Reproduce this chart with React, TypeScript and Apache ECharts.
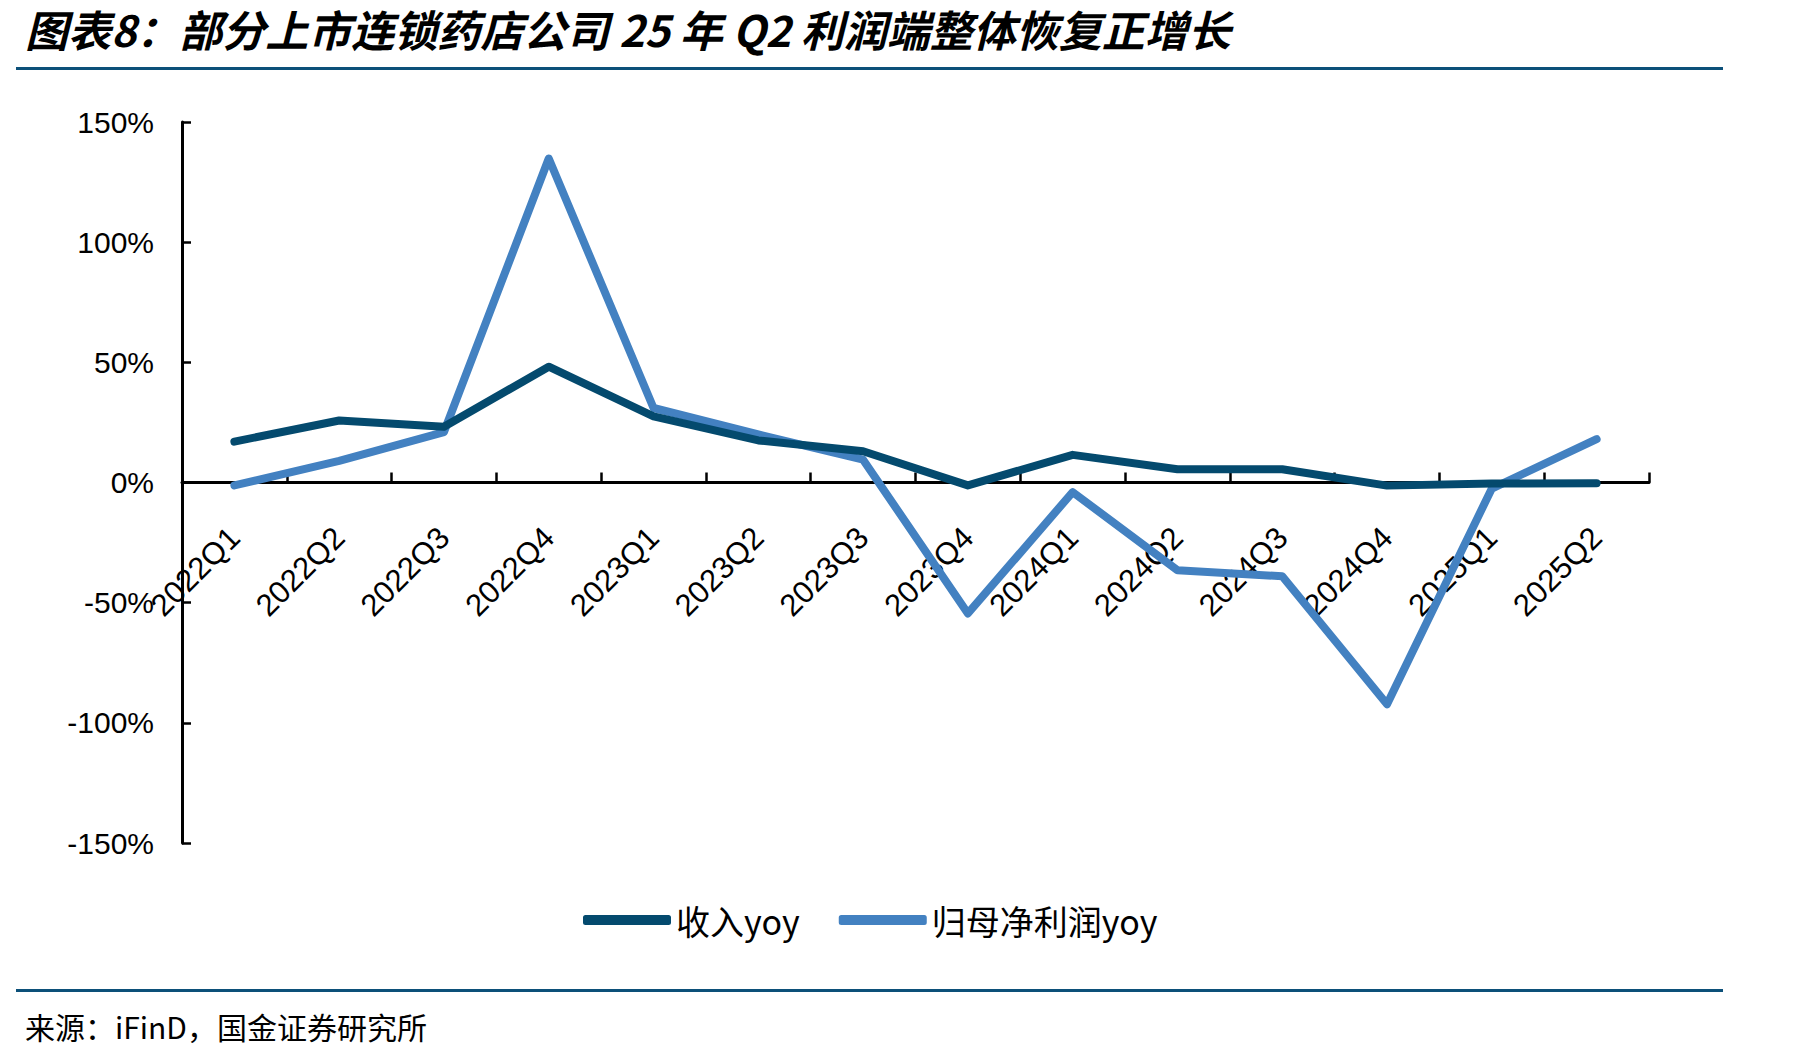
import React, { useEffect, useRef } from "react";
import * as echarts from "echarts";

const categories = ["2022Q1", "2022Q2", "2022Q3", "2022Q4", "2023Q1", "2023Q2", "2023Q3", "2023Q4", "2024Q1", "2024Q2", "2024Q3", "2024Q4", "2025Q1", "2025Q2"];
const revenueYoy = [17.0, 25.8, 23.2, 48.2, 27.5, 17.5, 13.0, -1.2, 11.5, 5.5, 5.5, -1.3, -0.4, -0.3];
const profitYoy = [-1.2, 9.0, 21.0, 134.8, 31.0, 20.0, 9.5, -54.5, -4.0, -36.5, -39.0, -92.3, -2.5, 18.0];
const seriesNames = ["收入yoy", "归母净利润yoy"];
const yTicks = { min: -150, max: 150, interval: 50 };
const titleText = "图表8：部分上市连锁药店公司 25 年 Q2 利润端整体恢复正增长";
const sourceText = "来源：iFinD，国金证券研究所";

export default function App() {
  const ref = useRef<HTMLDivElement>(null);
  useEffect(() => {
    if (!ref.current) return;
    const chart = echarts.init(ref.current, undefined, { renderer: "svg" });
    const dark = "#044a6e";
    const light = "#4381c1";
    const gridTop = 122;
    const gridBottom = 217;
    const gridHeight = 1060 - gridTop - gridBottom;
    const zeroOffset = -gridHeight * (0 - yTicks.min) / (yTicks.max - yTicks.min);
    chart.setOption({
      animation: false,
      backgroundColor: "#ffffff",
      textStyle: { fontFamily: "'Liberation Sans', Arial, sans-serif" },
      grid: { left: 182, right: 162, top: gridTop, bottom: gridBottom, containLabel: false },
      legend: {
        left: 578,
        top: 898,
        icon: "roundRect",
        itemWidth: 88,
        itemHeight: 10,
        itemGap: 39,
        textStyle: { fontSize: 34, color: "#000", fontFamily: "'Noto Sans CJK SC', sans-serif" },
        data: seriesNames,
      },
      xAxis: {
        type: "category",
        data: categories,
        boundaryGap: true,
        position: "bottom",
        offset: zeroOffset,
        axisLine: { onZero: false, lineStyle: { color: "#000", width: 3 } },
        axisTick: { show: true, inside: true, length: 10, lineStyle: { color: "#000", width: 2.5 } },
        axisLabel: { rotate: 45, margin: 50, fontSize: 31, color: "#000", interval: 0 },
        splitLine: { show: false },
      },
      yAxis: {
        type: "value",
        min: yTicks.min,
        max: yTicks.max,
        interval: yTicks.interval,
        axisLine: { show: true, lineStyle: { color: "#000", width: 3 } },
        axisTick: { show: true, inside: true, length: 9, lineStyle: { color: "#000", width: 2.5 } },
        axisLabel: { formatter: "{value}%", fontSize: 30, color: "#000", margin: 28 },
        splitLine: { show: false },
      },
      series: [
        {
          name: seriesNames[0],
          type: "line",
          data: revenueYoy,
          symbol: "none",
          lineStyle: { color: dark, width: 8, cap: "round", join: "round" },
          itemStyle: { color: dark },
          z: 3,
        },
        {
          name: seriesNames[1],
          type: "line",
          data: profitYoy,
          symbol: "none",
          lineStyle: { color: light, width: 8, cap: "round", join: "round" },
          itemStyle: { color: light },
          z: 2,
        },
      ],
      graphic: [
        {
          type: "text",
          left: 25,
          top: 6,
          style: {
            text: titleText,
            fontSize: 43,
            fontWeight: "bold",
            fontStyle: "italic",
            fontFamily: "'Noto Sans CJK SC', sans-serif",
            fill: "#000",
          },
        },
        {
          type: "rect",
          shape: { x: 16, y: 67, width: 1707, height: 3 },
          style: { fill: "#0c5079" },
        },
        {
          type: "rect",
          shape: { x: 16, y: 989, width: 1707, height: 3 },
          style: { fill: "#0c5079" },
        },
        {
          type: "text",
          left: 25,
          top: 1011,
          style: {
            text: sourceText,
            fontSize: 30,
            fontFamily: "'Noto Sans CJK SC', sans-serif",
            fill: "#000",
          },
        },
      ],
    });
    return () => chart.dispose();
  }, []);
  return <div ref={ref} style={{ width: 1811, height: 1060, position: "absolute", left: 0, top: 0 }} />;
}
